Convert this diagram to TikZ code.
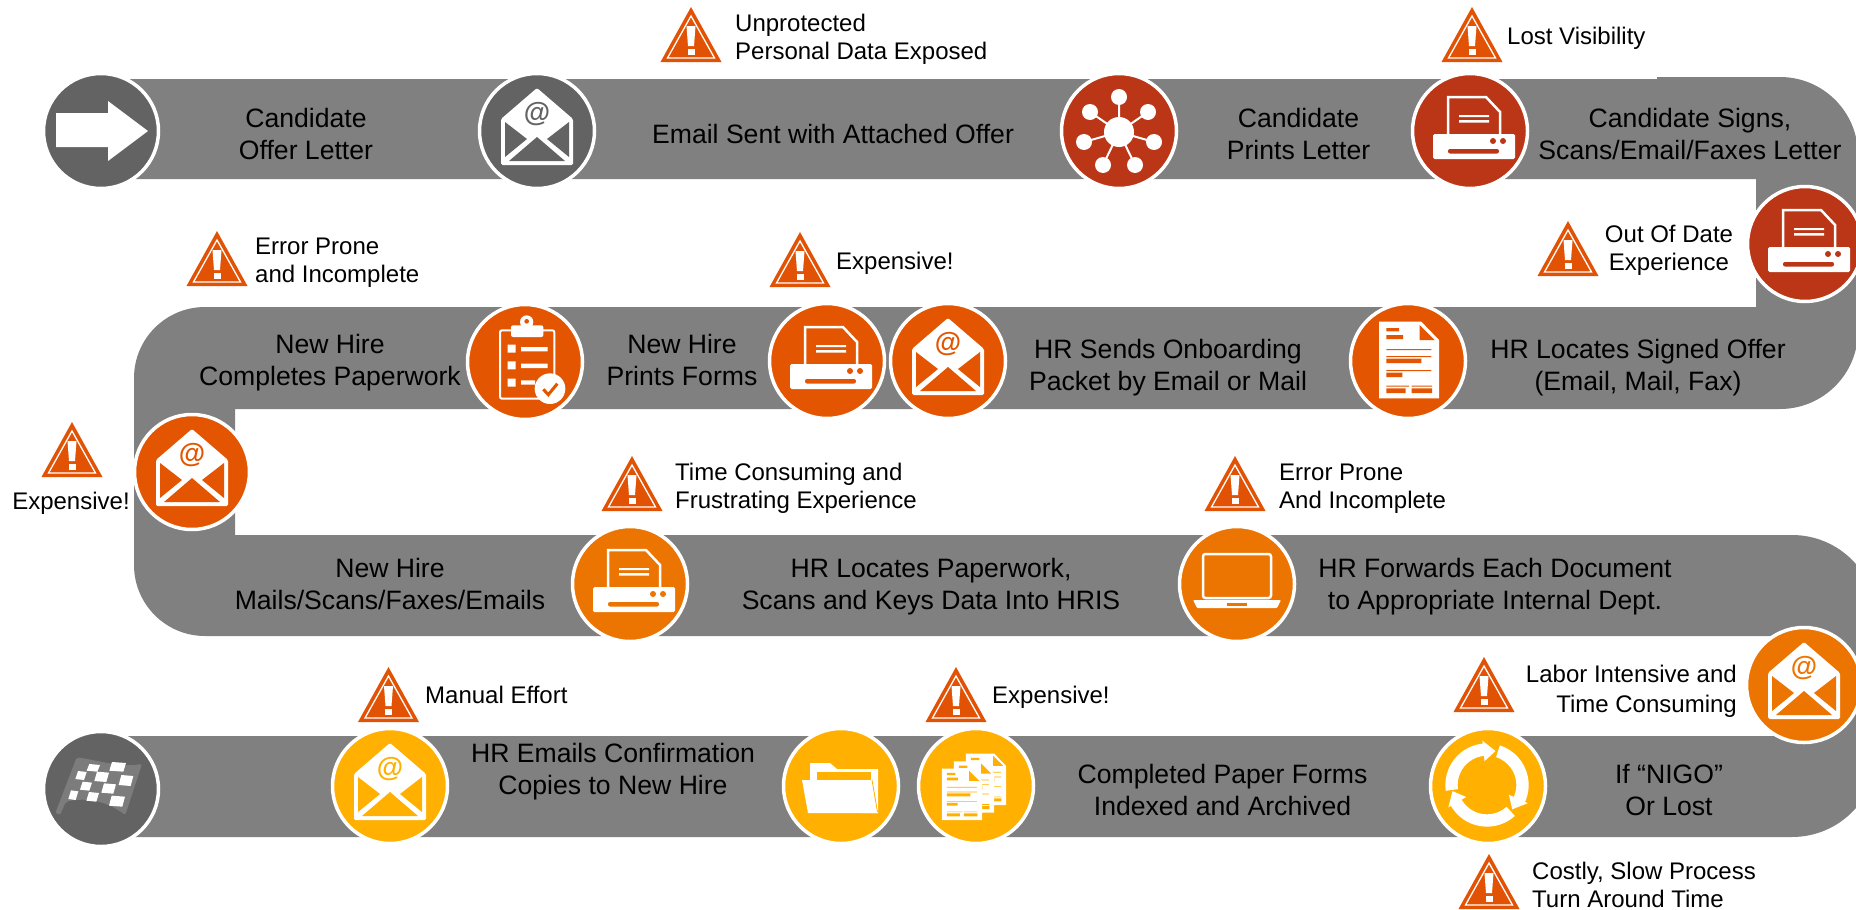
\documentclass[tikz,border=0pt]{standalone}
\usepackage{fontspec}
\setmainfont{Liberation Sans}
\definecolor{band}{HTML}{808080}
\definecolor{dgray}{HTML}{636363}
\definecolor{redc}{HTML}{BA3616}
\definecolor{orangea}{HTML}{E35500}
\definecolor{orangeb}{HTML}{EC7400}
\definecolor{yellowc}{HTML}{FFB000}
\definecolor{flagc}{HTML}{7C7C7C}
\definecolor{warncol}{HTML}{E25205}
\newcommand{\docbody}[1]{%
  \fill[white] (118,65) -- (245,65) -- (298,120) -- (298,295) -- (118,295) -- cycle;
  \fill[#1] (240,75) -- (240,120) -- (285,120) -- cycle;
  \fill[#1] (140,84) rectangle (178,94) (140,105) rectangle (190,117)
            (140,176) rectangle (245,189) (140,218) rectangle (188,231)
            (140,265) rectangle (198,279) (216,265) rectangle (277,279)
            (140,147) rectangle (275,150) (140,168) rectangle (275,171)
            (140,210) rectangle (275,213) (140,257) rectangle (208,260) (216,257) rectangle (277,260);
}
\newcommand{\cycarrow}[2]{%
  \fill[white] (#1:125) arc[start angle=#1,end angle=#2,radius=125] -- (#2:134) -- ({#2+20}:105) -- (#2:72) -- (#2:88)
     arc[start angle=#2,end angle=#1,radius=88] -- cycle;
}
\newcommand{\chk}[4]{%
  \fill[white] ({#1-#3/2+4},{#2-#4/2}) -- ({#1+#3/2+4},{#2-#4/2+3}) -- ({#1+#3/2-4},{#2+#4/2+3}) -- ({#1-#3/2-4},{#2+#4/2}) -- cycle;
}
\tikzset{
  circ/.style={circle,draw=white,line width=3.5pt,minimum size=115pt,inner sep=0pt,outer sep=0pt},
  strutted/.style={execute at begin node=\strut,execute at end node=\strut,yshift=-3pt,inner sep=0pt,text=black},
  main/.style={font=\fontsize{26.6}{32}\selectfont,align=center,strutted},
  twolines/.style={main,yshift=-2pt},
  warnl/.style={font=\fontsize{24}{28}\selectfont,align=left,anchor=west,strutted,yshift=-1pt},
  warnmid/.style={font=\fontsize{24}{28}\selectfont,align=center,strutted,yshift=-1pt},
  warnr/.style={font=\fontsize{24}{30}\selectfont,align=right,anchor=east,strutted,yshift=-2.5pt},
  warnlast/.style={font=\fontsize{24}{28}\selectfont,align=left,anchor=west,inner sep=0pt,text=black},
  pics/warntri/.style={code={
    \fill[warncol] (0,0) -- (30.5,55) -- (-30.5,55) -- cycle;
    \draw[white,line width=1.3pt] (0,9) -- (23.5,51) -- (-23.5,51) -- cycle;
    \fill[white] (-4.5,19) -- (4.5,19) -- (3,39) -- (-3,39) -- cycle;
    \fill[white] (-3.5,42) rectangle (3.5,48);
  }},
  pics/emailicon/.style={code={
    \fill[white,rounded corners=1.5pt] (0,-43) -- (36,-12) -- (36,34) -- (-36,34) -- (-36,-12) -- cycle;
    \fill[#1] (-32,-9) -- (-10,8) -- (-32,26) -- cycle;
    \fill[#1] (32,-9) -- (10,8) -- (32,26) -- cycle;
    \fill[#1] (-28,30) -- (0,6) -- (28,30) -- cycle;
    \node[inner sep=0pt,text=#1,font=\fontsize{27}{27}\selectfont\bfseries] (atsign) at (0,-17) {@};
  }},
  pics/printericon/.style={code={
    \draw[white,line width=2.5pt,fill=#1] (-22,4) -- (-22,-34) -- (16,-34) -- (30,-19) -- (30,4);
    \fill[white] (-11,-16) rectangle (19,-14) (-11,-11) rectangle (19,-8.5);
    \fill[white,rounded corners=1.5pt] (-37,3) rectangle (45,28);
    \fill[#1] (23,10) circle (3) (33,10) circle (3);
    \fill[#1,rounded corners=2pt] (-22,18) rectangle (29,22.5);
  }},
  pics/neticon/.style={code={
    \draw[white,line width=2pt] (0,1) -- (0,-34) (0,1) -- (-29,-19) (0,1) -- (29,-19) (0,1) -- (-35,11) (0,1) -- (35,11) (0,1) -- (-16,34) (0,1) -- (16,34);
    \fill[white] (0,1) circle (15) (0,-34) circle (8) (-29,-19) circle (8) (29,-19) circle (8) (-35,11) circle (8) (35,11) circle (8) (-16,34) circle (8) (16,34) circle (8);
  }},
  pics/clipicon/.style={code={
    \begin{scope}[scale=1/3,shift={(-195,-180)}]
    \draw[white,line width=2pt,rounded corners=2pt] (120,85) rectangle (283,290);
    \fill[white] (200,60) circle (20);
    \fill[#1] (200,58) circle (7);
    \fill[white,rounded corners=2pt] (153,70) rectangle (250,105);
    \fill[white] (143,128) rectangle (167,152) (143,178) rectangle (167,202) (143,230) rectangle (167,254)
      (183,135) rectangle (263,148) (183,185) rectangle (263,198) (183,235) rectangle (225,248);
    \fill[white] (270,260) circle (46);
    \draw[#1,line width=3pt] (250,262) -- (265,278) -- (292,245);
    \end{scope}
  }},
  pics/docicon/.style={code={
    \begin{scope}[scale=1/3,shift={(-205,-183)}]
    \docbody{#1}
    \end{scope}
  }},
  pics/docsicon/.style={code={
    \begin{scope}[scale=1/3,shift={(-197,-183)}]
    \begin{scope}[shift={(227,163)},scale=.67,shift={(-208,-180)}]\docbody{#1}\end{scope}
    \begin{scope}[shift={(191,186)},scale=.67,shift={(-208,-180)}]\docbody{#1}\end{scope}
    \begin{scope}[shift={(155,208)},scale=.67,shift={(-208,-180)}]\docbody{#1}\end{scope}
    \end{scope}
  }},
  pics/cycleicon/.style={code={
    \begin{scope}[scale=1/3,shift={(-3,-3)}]
    \cycarrow{172}{264}
    \cycarrow{288}{384}
    \cycarrow{48}{150}
    \end{scope}
  }},
  pics/laptopicon/.style={code={
    \draw[white,line width=2.5pt,rounded corners=2.5pt] (-34,-30) rectangle (34,14);
    \fill[white,rounded corners=1pt] (-44,16) -- (44,16) -- (40,24) -- (-40,24) -- cycle;
    \fill[#1] (-10,19) rectangle (10,21.5);
  }},
  pics/foldericon/.style={code={
    \fill[white] (-31,10) -- (-31,-23) -- (-11,-23) -- (-4,-17) -- (37,-17) -- (37,27) -- (20,27) -- cycle;
    \fill[#1] (-24,-14) rectangle (30,-6);
    \fill[white] (-39,-6) -- (31,-6) -- (37,27) -- (-33,27) -- cycle;
    \draw[#1,line width=.8pt] (31,-6) -- (36.5,26);
  }},
  pics/flagicon/.style={code={
    \begin{scope}[scale=1/3,shift={(-195,-190)}]
    \fill[flagc,rounded corners=2pt] (122,95) .. controls (190,105) and (250,125) .. (318,115) -- (268,268)
       .. controls (210,225) and (150,215) .. (90,228) -- (72,268) -- (58,262) -- cycle;
    \chk{172}{125}{32}{20}\chk{245}{122}{42}{26}\chk{135}{148}{26}{24}\chk{197}{152}{36}{28}\chk{270}{163}{36}{30}
    \chk{150}{180}{28}{24}\chk{218}{187}{36}{28}\chk{112}{207}{22}{26}\chk{170}{212}{30}{26}\chk{243}{225}{40}{30}
    \end{scope}
  }},
  pics/arrowicon/.style={code={
    \fill[white] (-45,-18) -- (7,-18) -- (7,-30) -- (47,0) -- (7,30) -- (7,16) -- (-45,16) -- cycle;
  }}
}
\begin{document}
\begin{tikzpicture}[x=1pt,y=-1pt]
\useasboundingbox (0,0) rectangle (1856,910);
\clip (0,0) rectangle (1856,910);
% serpentine band
\fill[band] (120,79) -- (1657,79) -- (1657,77) -- (1780,77)
  arc[start angle=-90,end angle=0,radius=78] -- (1858,331)
  arc[start angle=0,end angle=90,radius=78] -- (235,409) -- (235,535) -- (1792,535)
  arc[start angle=-90,end angle=0,radius=85] -- (1877,752)
  arc[start angle=0,end angle=90,radius=85] -- (120,837) -- (120,736) -- (1790,736) -- (1790,636) -- (205,636)
  arc[start angle=90,end angle=180,radius=71] -- (134,378)
  arc[start angle=180,end angle=270,radius=71] -- (1756,307) -- (1756,179) -- (120,179) -- cycle;
% stations
\node[circ,fill=dgray] (c1) at (101,131) {};
\node[circ,fill=dgray] (c2) at (537,131) {};
\node[circ,fill=redc] (c3) at (1119,131) {};
\node[circ,fill=redc] (c4) at (1470,131) {};
\node[circ,fill=redc] (c5) at (1805,244) {};
\node[circ,fill=orangea] (c6) at (1408,361) {};
\node[circ,fill=orangea] (c8) at (827,361) {};
\node[circ,fill=orangea] (c7) at (948,361) {};
\node[circ,fill=orangea] (c9) at (525,362) {};
\node[circ,fill=orangea] (c10) at (192,472) {};
\node[circ,fill=orangeb] (c11) at (630,584) {};
\node[circ,fill=orangeb] (c12) at (1237,584) {};
\node[circ,fill=orangeb] (c13) at (1804,685) {};
\node[circ,fill=yellowc] (c14) at (1488,786) {};
\node[circ,fill=yellowc] (c16) at (841,786) {};
\node[circ,fill=yellowc] (c15) at (976,786) {};
\node[circ,fill=yellowc] (c17) at (390,786) {};
\node[circ,fill=dgray] (c18) at (101,789) {};
% icons
\pic at (c1) {arrowicon};
\pic at (c2) {emailicon=dgray};
\pic at (c3) {neticon};
\pic at (c4) {printericon=redc};
\pic at (c5) {printericon=redc};
\pic at (c6) {docicon=orangea};
\pic at (c7) {emailicon=orangea};
\pic at (c8) {printericon=orangea};
\pic at (c9) {clipicon=orangea};
\pic at (c10) {emailicon=orangea};
\pic at (c11) {printericon=orangeb};
\pic at (c12) {laptopicon=orangeb};
\pic at (c13) {emailicon=orangeb};
\pic at (c14) {cycleicon};
\pic at (c15) {docsicon=yellowc};
\pic at (c16) {foldericon=yellowc};
\pic at (c17) {emailicon=yellowc};
\pic at (c18) {flagicon};
% warnings
\pic at (691,7) {warntri};
\pic at (1472,7) {warntri};
\pic at (1568,221) {warntri};
\pic at (217,231) {warntri};
\pic at (800,232) {warntri};
\pic at (72,422) {warntri};
\pic at (632,456) {warntri};
\pic at (1235,456) {warntri};
\pic at (388.5,667) {warntri};
\pic at (956,667) {warntri};
\pic at (1484,657) {warntri};
\pic at (1489,854) {warntri};
% warning texts
\node[warnl] (w1) at (735,37) {Unprotected\\Personal Data Exposed};
\node[warnl] (w2) at (1507,35) {Lost Visibility};
\node[warnmid] (w3) at (1669,248) {Out Of Date\\Experience};
\node[warnl] (w4) at (255,260) {Error Prone\\and Incomplete};
\node[warnl] (w5) at (836,260) {Expensive!};
\node[warnmid] (w6) at (71,500) {Expensive!};
\node[warnl] (w7) at (675,486) {Time Consuming and\\Frustrating Experience};
\node[warnl] (w8) at (1279,486) {Error Prone\\And Incomplete};
\node[warnl] (w9) at (425,694) {Manual Effort};
\node[warnl] (w10) at (992,694) {Expensive!};
\node[warnr] (w11) at (1737,688) {Labor Intensive and\\Time Consuming};
\node[warnlast] (w12) at (1532,885) {Costly, Slow Process\\Turn Around Time};
% band texts
\node[twolines] (t1) at (306,134) {Candidate\\Offer Letter};
\node[main] (t2) at (833,134) {Email Sent with Attached Offer};
\node[twolines] (t3) at (1298.5,134) {Candidate\\Prints Letter};
\node[twolines] (t4) at (1690,134) {Candidate Signs,\\Scans/Email/Faxes Letter};
\node[twolines] (t5) at (1638,365) {HR Locates Signed Offer\\(Email, Mail, Fax)};
\node[twolines] (t6) at (1168,365) {HR Sends Onboarding\\Packet by Email or Mail};
\node[twolines] (t7) at (682,360) {New Hire\\Prints Forms};
\node[twolines] (t8) at (330,360) {New Hire\\Completes Paperwork};
\node[twolines] (t9) at (390,584) {New Hire\\Mails/Scans/Faxes/Emails};
\node[twolines] (t10) at (931,584) {HR Locates Paperwork,\\Scans and Keys Data Into HRIS};
\node[twolines] (t11) at (1495,584) {HR Forwards Each Document\\to Appropriate Internal Dept.};
\node[twolines] (t12) at (613,769) {HR Emails Confirmation\\Copies to New Hire};
\node[twolines] (t13) at (1222.5,790) {Completed Paper Forms\\Indexed and Archived};
\node[twolines] (t14) at (1669,790) {If “NIGO”\\Or Lost};
\end{tikzpicture}
\end{document}
